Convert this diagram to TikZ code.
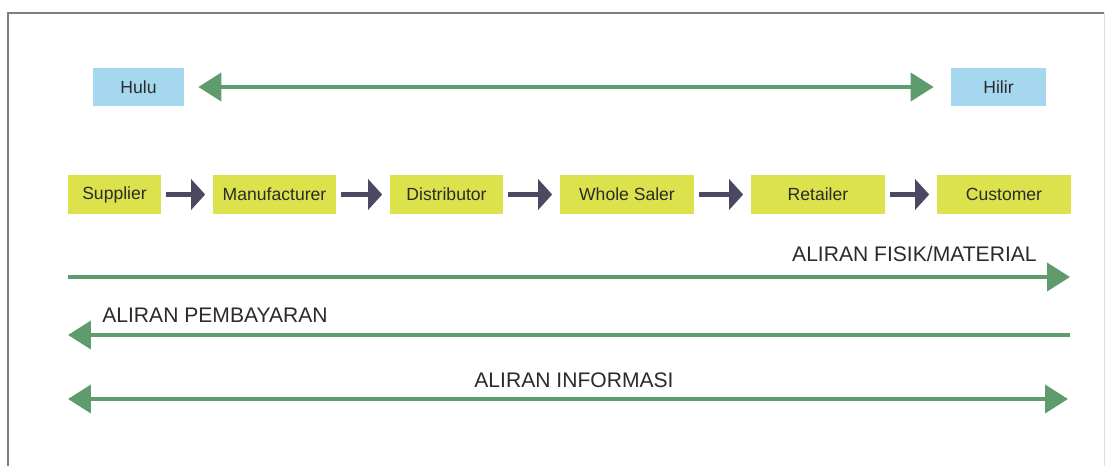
\documentclass[tikz,border=0pt]{standalone}
\usepackage{fontspec}
\setmainfont{Liberation Sans}
\usepackage{xcolor}
\usepackage{tikz}
\usetikzlibrary{arrows.meta}
\definecolor{teks}{HTML}{2B2B2B}
\definecolor{biru}{HTML}{A5D8EE}
\definecolor{kuning}{HTML}{DCE24C}
\definecolor{ungu}{HTML}{4B4862}
\definecolor{hijau}{HTML}{5E9C6E}
\definecolor{bingkai}{HTML}{7F7F7F}
\tikzset{
  ujung/.style={fill=biru, text=teks, minimum height=0.76cm, inner sep=0pt, font=\fontsize{10}{12}\selectfont},
  rantai/.style={fill=kuning, text=teks, minimum height=0.78cm, inner sep=0pt, font=\fontsize{10}{12}\selectfont},
  panahrantai/.style={draw=ungu, line width=0.1cm, -{Triangle[length=0.28cm,width=0.6cm]}, shorten <=0.1cm, shorten >=0.15cm},
  aliran/.style={draw=hijau, line width=0.08cm},
  tipaliran/.style={Triangle[length=0.46cm,width=0.56cm]},
  ket/.style={text=teks, font=\fontsize{12}{14}\selectfont, inner sep=0pt},
}

\begin{document}
\begin{tikzpicture}[x=0.02cm, y=-0.02cm]
\useasboundingbox (0,0) rectangle (1108,466);
% bingkai
\draw[bingkai, line width=0.04cm] (8,466) -- (8,13) -- (1104,13);
\draw[black!12, line width=0.02cm] (1104,13) -- (1104,466);
% hulu - hilir
\node[ujung, minimum width=1.82cm] (hulu) at (138.5,87) {Hulu};
\node[ujung, minimum width=1.9cm] (hilir) at (998.5,87) {Hilir};
\draw[aliran, {Triangle[length=0.46cm,width=0.56cm]}-{Triangle[length=0.46cm,width=0.56cm]}, shorten <=0.28cm, shorten >=0.34cm] (hulu) -- (hilir);
% rantai pasok
\node[rantai, minimum width=1.86cm] (supplier) at (114.5,194.5) {Supplier};
\node[rantai, minimum width=2.46cm] (manufacturer) at (274.5,194.5) {Manufacturer};
\node[rantai, minimum width=2.26cm] (distributor) at (446.5,194.5) {Distributor};
\node[rantai, minimum width=2.68cm] (wholesaler) at (627,194.5) {Whole Saler};
\node[rantai, minimum width=2.68cm] (retailer) at (818,194.5) {Retailer};
\node[rantai, minimum width=2.68cm] (customer) at (1004,194.5) {Customer};
\draw[panahrantai] (supplier) -- (manufacturer);
\draw[panahrantai] (manufacturer) -- (distributor);
\draw[panahrantai] (distributor) -- (wholesaler);
\draw[panahrantai] (wholesaler) -- (retailer);
\draw[panahrantai] (retailer) -- (customer);
% aliran
\coordinate (fisikA) at (68,277);
\coordinate (fisikB) at (1070,277);
\coordinate (bayarA) at (1070,335);
\coordinate (bayarB) at (68,335);
\coordinate (infoA) at (68,399);
\coordinate (infoB) at (1068,399);
\draw[aliran, -{Triangle[length=0.46cm,width=0.56cm]}] (fisikA) -- (fisikB);
\draw[aliran, -{Triangle[length=0.46cm,width=0.56cm]}] (bayarA) -- (bayarB);
\draw[aliran, {Triangle[length=0.46cm,width=0.56cm]}-{Triangle[length=0.46cm,width=0.56cm]}] (infoA) -- (infoB);
\node[ket, anchor=east] (ketfisik) at (1037,254) {ALIRAN FISIK/MATERIAL};
\node[ket, anchor=west] (ketbayar) at (102,315) {ALIRAN PEMBAYARAN};
\node[ket] (ketinfo) at (574,380) {ALIRAN INFORMASI};
\end{tikzpicture}
\end{document}
